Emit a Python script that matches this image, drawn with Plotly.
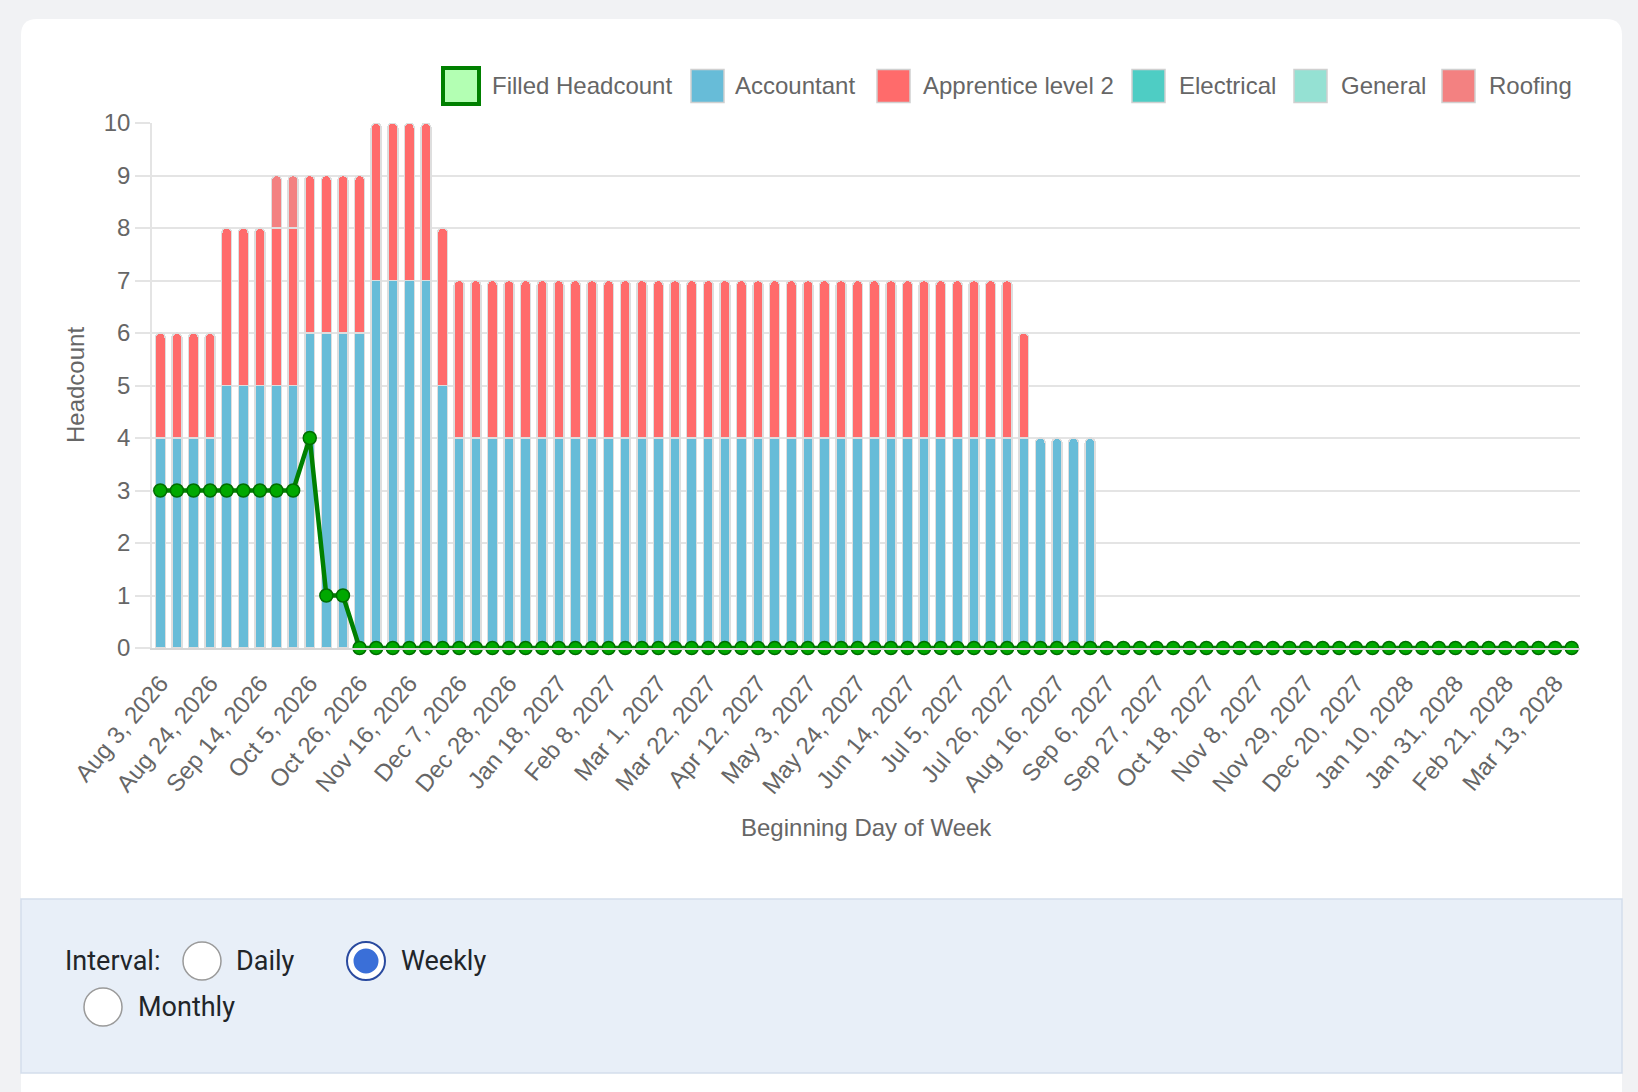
import pandas as pd
import plotly.graph_objects as go

# week starts shown on the x axis (weekly interval)
weeks = pd.date_range("2026-08-03", periods=86, freq="7D")
week_labels = [f"{d.strftime('%b')} {d.day}, {d.year}" for d in weeks]

# headcount per trade
accountant = [4] * 4 + [5] * 5 + [6] * 4 + [7] * 4 + [5] + [4] * 39 + [0] * 29
apprentice = [2] * 4 + [3] * 48 + [2] + [0] * 33
electrical = [0] * 86
general = [0] * 86
roofing = [0] * 7 + [1] * 2 + [0] * 77
filled = [3] * 9 + [4] + [1] * 2 + [0] * 74

W, H = 1638, 1092
L, R, T, B = 152, 1580, 123, 648


def px(x):
    return (x - L) / (R - L)


def py(y):
    return (B - y) / (B - T)


def rounded_rect(x0, y0, x1, y1, r):
    return (
        f"M {px(x0 + r)} {py(y0)} L {px(x1 - r)} {py(y0)} "
        f"Q {px(x1)} {py(y0)} {px(x1)} {py(y0 + r)} "
        f"L {px(x1)} {py(y1 - r)} Q {px(x1)} {py(y1)} {px(x1 - r)} {py(y1)} "
        f"L {px(x0 + r)} {py(y1)} Q {px(x0)} {py(y1)} {px(x0)} {py(y1 - r)} "
        f"L {px(x0)} {py(y0 + r)} Q {px(x0)} {py(y0)} {px(x0 + r)} {py(y0)} Z"
    )


chart_font = "Liberation Sans, Arial, sans-serif"
ui_font = "Roboto, Liberation Sans, sans-serif"

bars = [
    ("Accountant", accountant, "#67bcd8"),
    ("Apprentice level 2", apprentice, "#ff6b6b"),
    ("Electrical", electrical, "#4ecdc4"),
    ("General", general, "#95e1d3"),
    ("Roofing", roofing, "#f38181"),
]

fig = go.Figure()
for name, vals, color in bars:
    fig.add_trace(go.Bar(
        x=week_labels,
        y=[v if v else None for v in vals],
        name=name,
        width=0.6,
        marker=dict(color=color, line=dict(color="#dedede", width=1.5)),
        showlegend=False,
    ))

fig.add_trace(go.Scatter(
    x=week_labels,
    y=filled,
    name="Filled Headcount",
    mode="lines+markers",
    line=dict(color="#008000", width=4.5),
    marker=dict(size=13, color="#00a800", line=dict(color="#006e00", width=1.5)),
    cliponaxis=False,
    showlegend=False,
))

shapes = []
# white card and the interval panel
shapes.append(dict(type="path", xref="paper", yref="paper", layer="below",
                   path=rounded_rect(21, 19, 1622, 1130, 16),
                   fillcolor="white", line=dict(width=0)))
shapes.append(dict(type="rect", xref="paper", yref="paper", layer="below",
                   x0=px(21), x1=px(1622), y0=py(1073), y1=py(899),
                   fillcolor="#e8eff8", line=dict(color="#d3deec", width=1.5)))


def circle(cx, cy, r, fill, line_color, line_width):
    return dict(type="circle", xref="paper", yref="paper", layer="above",
                x0=px(cx - r), x1=px(cx + r), y0=py(cy + r), y1=py(cy - r),
                fillcolor=fill, line=dict(color=line_color, width=line_width))


shapes.append(circle(202, 961, 19, "white", "#9a9a9a", 1.5))
shapes.append(circle(366, 961, 19, "white", "#2a4a9f", 2))
shapes.append(circle(366, 961, 12.5, "#3a6fd8", "#3a6fd8", 0))
shapes.append(circle(103, 1007, 19, "white", "#9a9a9a", 1.5))

annotations = []

# legend drawn by hand so the boxes keep their size
legend_y = 86
legend_items = [
    ("Filled Headcount", 443, 490, "#b3ffb3", "#008000", 4),
    ("Accountant", 691, 733, "#67bcd8", "#d0d0d0", 1.5),
    ("Apprentice level 2", 877, 921, "#ff6b6b", "#d0d0d0", 1.5),
    ("Electrical", 1132, 1177, "#4ecdc4", "#d0d0d0", 1.5),
    ("General", 1294, 1339, "#95e1d3", "#d0d0d0", 1.5),
    ("Roofing", 1442, 1487, "#f38181", "#d0d0d0", 1.5),
]
for label, bx, tx, fill, lc, lw in legend_items:
    size = 36 if lw > 2 else 33
    shapes.append(dict(type="rect", xref="paper", yref="paper", layer="above",
                       x0=px(bx), x1=px(bx + size),
                       y0=py(legend_y + size / 2), y1=py(legend_y - size / 2),
                       fillcolor=fill, line=dict(color=lc, width=lw)))
    annotations.append(dict(x=px(tx), y=py(legend_y), xref="paper", yref="paper", text=label,
                            showarrow=False, xanchor="left", yanchor="middle",
                            font=dict(family=chart_font, size=24, color="#666666")))

annotations.append(dict(x=px(75), y=py(385), xref="paper", yref="paper", text="Headcount",
                        textangle=-90, showarrow=False, xanchor="center", yanchor="middle",
                        font=dict(family=chart_font, size=24, color="#666666")))
annotations.append(dict(x=px(866), y=py(827), xref="paper", yref="paper",
                        text="Beginning Day of Week", showarrow=False,
                        xanchor="center", yanchor="middle",
                        font=dict(family=chart_font, size=24, color="#666666")))

for text, x, y in [("Interval:", 63, 961), ("Daily", 234, 961),
                   ("Weekly", 399, 961), ("Monthly", 136, 1007)]:
    annotations.append(dict(x=px(x), y=py(y), xref="paper", yref="paper", text=text,
                            showarrow=False, xanchor="left", yanchor="middle",
                            font=dict(family=ui_font, size=27, color="#212529")))

fig.update_layout(
    width=W,
    height=H,
    barmode="stack",
    barcornerradius=5,
    margin=dict(l=L, r=W - R, t=T, b=H - B, autoexpand=False),
    paper_bgcolor="#f1f2f4",
    plot_bgcolor="white",
    shapes=shapes,
    annotations=annotations,
    showlegend=False,
    font=dict(family=chart_font, size=24, color="#666666"),
    xaxis=dict(
        type="category",
        range=[-0.5, len(week_labels) - 0.5],
        tickvals=week_labels[::3],
        ticktext=week_labels[::3],
        tickangle=-50,
        ticklabelstandoff=10,
        tickfont=dict(size=24, color="#666666"),
        showgrid=False,
        showline=True,
        linecolor="#d6d6d6",
        linewidth=1.5,
        ticks="",
        automargin=False,
    ),
    yaxis=dict(
        range=[0, 10],
        dtick=1,
        tickfont=dict(size=24, color="#666666"),
        gridcolor="#e4e4e4",
        gridwidth=1.5,
        showline=True,
        linecolor="#e4e4e4",
        linewidth=1.5,
        ticks="outside",
        ticklen=15,
        tickcolor="#e4e4e4",
        tickwidth=1.5,
        zeroline=False,
        automargin=False,
    ),
)

# the page body keeps its default 8px margin otherwise
fig.write_html("out.html", config={"displayModeBar": False},
               post_script="document.body.style.margin='0';")
